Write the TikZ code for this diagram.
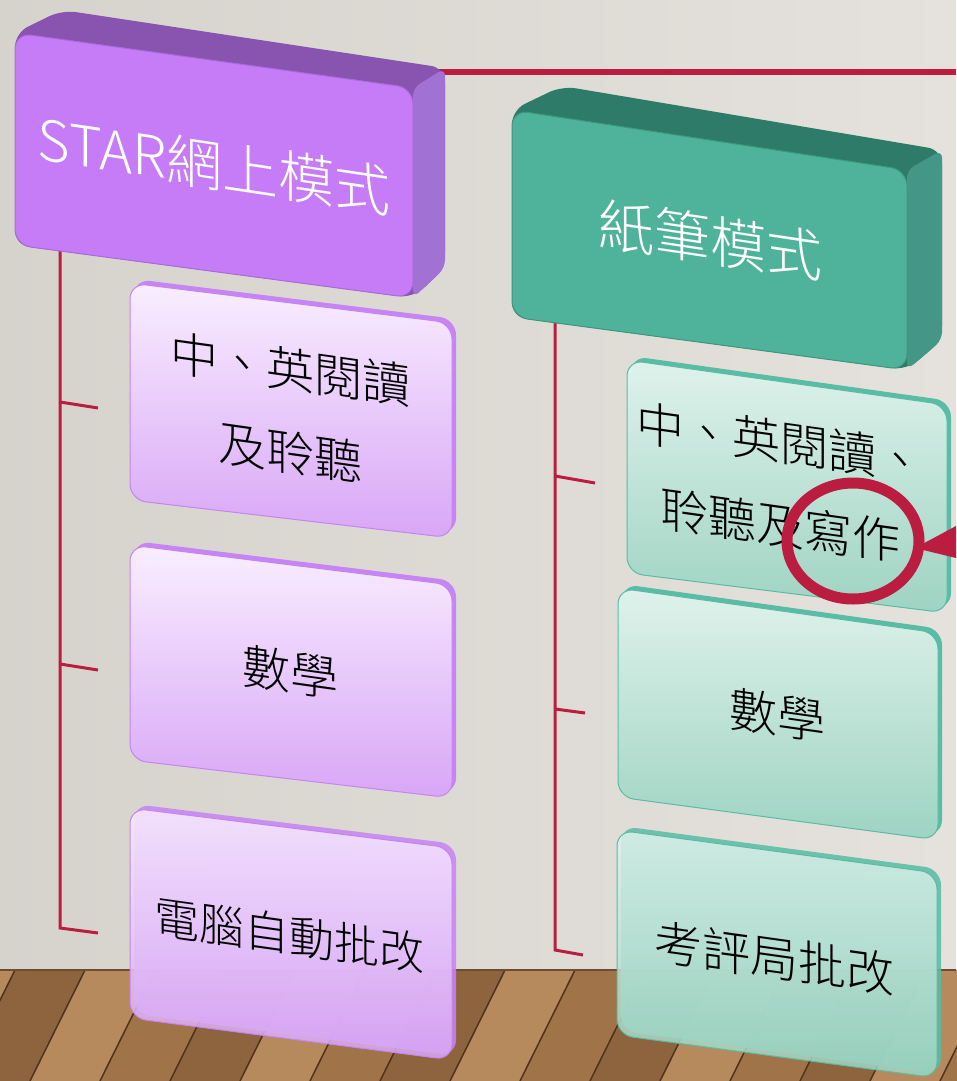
\documentclass[tikz,border=0pt]{standalone}
\usepackage{fontspec}
\IfFontExistsTF{Noto Sans CJK TC Light}
  {\newfontfamily\cjk{Noto Sans CJK TC Light}}
  {\newfontfamily\cjk{Noto Sans CJK TC}}
\usetikzlibrary{calc,positioning,shapes.geometric}
\definecolor{wallL}{RGB}{214,211,205}
\definecolor{wallR}{RGB}{229,226,221}
\definecolor{woodA}{RGB}{160,116,72}
\definecolor{woodB}{RGB}{182,138,92}
\definecolor{woodC}{RGB}{142,100,62}
\definecolor{seam}{RGB}{78,50,30}
\definecolor{linered}{RGB}{186,29,64}
\definecolor{vfront}{RGB}{197,124,246}
\definecolor{vtopside}{RGB}{137,84,176}
\definecolor{vrside}{RGB}{161,113,212}
\definecolor{vborder}{RGB}{170,106,220}
\definecolor{vlight}{RGB}{249,238,255}
\definecolor{vdark}{RGB}{216,166,246}
\definecolor{vedge}{RGB}{198,132,244}
\definecolor{gfront}{RGB}{79,179,155}
\definecolor{gtopside}{RGB}{47,123,106}
\definecolor{grside}{RGB}{68,151,135}
\definecolor{gborder}{RGB}{60,150,128}
\definecolor{glight}{RGB}{223,242,236}
\definecolor{gdark}{RGB}{158,211,194}
\definecolor{gedge}{RGB}{88,189,164}

\newcommand{\slab}[5]{\path[#1] ($(#2)!.5!(#5)$) -- (#2) -- (#3) -- (#4) -- (#5) -- cycle;}

\begin{document}
\begin{tikzpicture}[x=1pt,y=-1pt,
  headtext/.style={font=\cjk\fontsize{56}{60}\selectfont,text=white,yslant=-0.15},
  itemtext/.style={font=\cjk\fontsize{48}{83}\selectfont,align=center,yslant=-0.14},
  vhead/.style={rounded corners=16pt,fill=vfront,draw=vborder,line width=1pt},
  ghead/.style={rounded corners=16pt,fill=gfront,draw=gborder,line width=1pt},
  vitem/.style={rounded corners=16pt,top color=vlight,bottom color=vdark,draw=vedge,line width=1pt},
  gitem/.style={rounded corners=16pt,top color=glight,bottom color=gdark,draw=gedge,line width=1pt},
  vdepth/.style={rounded corners=16pt,fill=vedge,shift={(4,-4)}},
  gdepth/.style={rounded corners=16pt,fill=gedge,shift={(4,-4)}},
  onfloor/.style={fill opacity=.86},
  bracket/.style={draw=linered,line width=3pt},
  ]

  \useasboundingbox (0,0) rectangle (956,1081);
  \shade[left color=wallL,right color=wallR] (0,0) rectangle (956,970);
  \fill[woodA] (0,970) rectangle (956,1081);
  \foreach \x/\c in {-110/woodB,-40/woodC,30/woodB,100/woodA,170/woodC,240/woodB,310/woodA,380/woodC,
                     450/woodB,520/woodA,590/woodC,660/woodB,730/woodA,800/woodC,870/woodB,940/woodA}
    \fill[\c] (\x,1081) -- (\x+55,970) -- (\x+125,970) -- (\x+70,1081) -- cycle;
  \foreach \x in {-110,-40,...,940}
    \draw[seam,line width=1.5pt] (\x,1081) -- (\x+55,970);
  \draw[seam!60!woodA,line width=2pt] (0,970) -- (956,970);

  \coordinate (linestart) at (430,72);
  \coordinate (lineend) at (956,72);
  \draw[linered,line width=6pt] (linestart) -- (lineend);

  \coordinate (vtop) at (60,250);
  \coordinate (vbot) at (60,928);
  \coordinate (vj1) at (60,402);
  \coordinate (vk1) at (98,408);
  \coordinate (vj2) at (60,664);
  \coordinate (vk2) at (98,670);
  \coordinate (vk3) at (98,933);
  \draw[bracket] (vtop) -- (vbot) -- (vk3);
  \draw[bracket] (vj1) -- (vk1);
  \draw[bracket] (vj2) -- (vk2);

  \coordinate (gtop) at (555,322);
  \coordinate (gbot) at (555,950);
  \coordinate (gj1) at (555,476);
  \coordinate (gk1) at (595,483);
  \coordinate (gj2) at (555,709);
  \coordinate (gk2) at (585,713);
  \coordinate (gk3) at (583,955);
  \draw[bracket] (gtop) -- (gbot) -- (gk3);
  \draw[bracket] (gj1) -- (gk1);
  \draw[bracket] (gj2) -- (gk2);

  \path[fill=vtopside,rounded corners=14pt] (15,140) -- (15,33) -- (62,10) -- (445,68) -- (445,268) -- (413,298) -- (15,245) -- cycle;
  \path[fill=vrside,rounded corners=8pt] (413,88) -- (445,68) -- (445,268) -- (413,298) -- cycle;
  \slab{vhead}{15,33}{413,88}{413,298}{15,245}
  \node[headtext] (star) at (214,165) {STAR網上模式};

  \path[fill=gtopside,rounded corners=14pt] (512,210) -- (512,110) -- (562,86) -- (942,150) -- (942,340) -- (907,370) -- (512,317) -- cycle;
  \path[fill=grside,rounded corners=8pt] (907,170) -- (942,150) -- (942,340) -- (907,370) -- cycle;
  \slab{ghead}{512,110}{907,170}{907,370}{512,317}
  \node[headtext] (paper) at (710,240) {紙筆模式};

  \slab{vdepth}{130,283}{452,323}{452,538}{130,500}
  \slab{vitem}{130,283}{452,323}{452,538}{130,500}
  \node[itemtext] (vread) at (290,411) {中、英閱讀\\及聆聽};
  \slab{vdepth}{130,545}{452,585}{452,798}{130,760}
  \slab{vitem}{130,545}{452,585}{452,798}{130,760}
  \node[itemtext] (vmath) at (290,672) {數學};
  \slab{vdepth,onfloor}{130,808}{452,848}{452,1060}{130,1018}
  \slab{vitem,onfloor}{130,808}{452,848}{452,1060}{130,1018}
  \node[itemtext,font=\cjk\fontsize{45}{50}\selectfont] (vmark) at (289,935) {電腦自動批改};

  \slab{gdepth}{627,360}{947,405}{947,613}{627,573}
  \slab{gitem}{627,360}{947,405}{947,613}{627,573}
  \node[itemtext] (gread) at (780,484) {中、英閱讀、\\聆聽及寫作};
  \slab{gdepth}{618,588}{938,633}{938,840}{618,797}
  \slab{gitem}{618,588}{938,633}{938,840}{618,797}
  \node[itemtext] (gmath) at (777,715) {數學};
  \slab{gdepth,onfloor}{617,830}{937,873}{937,1078}{617,1035}
  \slab{gitem,onfloor}{617,830}{937,873}{937,1078}{617,1035}
  \node[itemtext] (gmark) at (774,958) {考評局批改};

  \node[ellipse,draw=linered,line width=11pt,minimum width=132pt,minimum height=116pt,inner sep=0pt] (ring) at (853,541) {};
  \coordinate (tip) at (915,548);
  \coordinate (barb1) at (956,526);
  \coordinate (barb2) at (956,558);
  \fill[linered] (tip) -- (barb1) -- (barb2) -- cycle;
\end{tikzpicture}
\end{document}
